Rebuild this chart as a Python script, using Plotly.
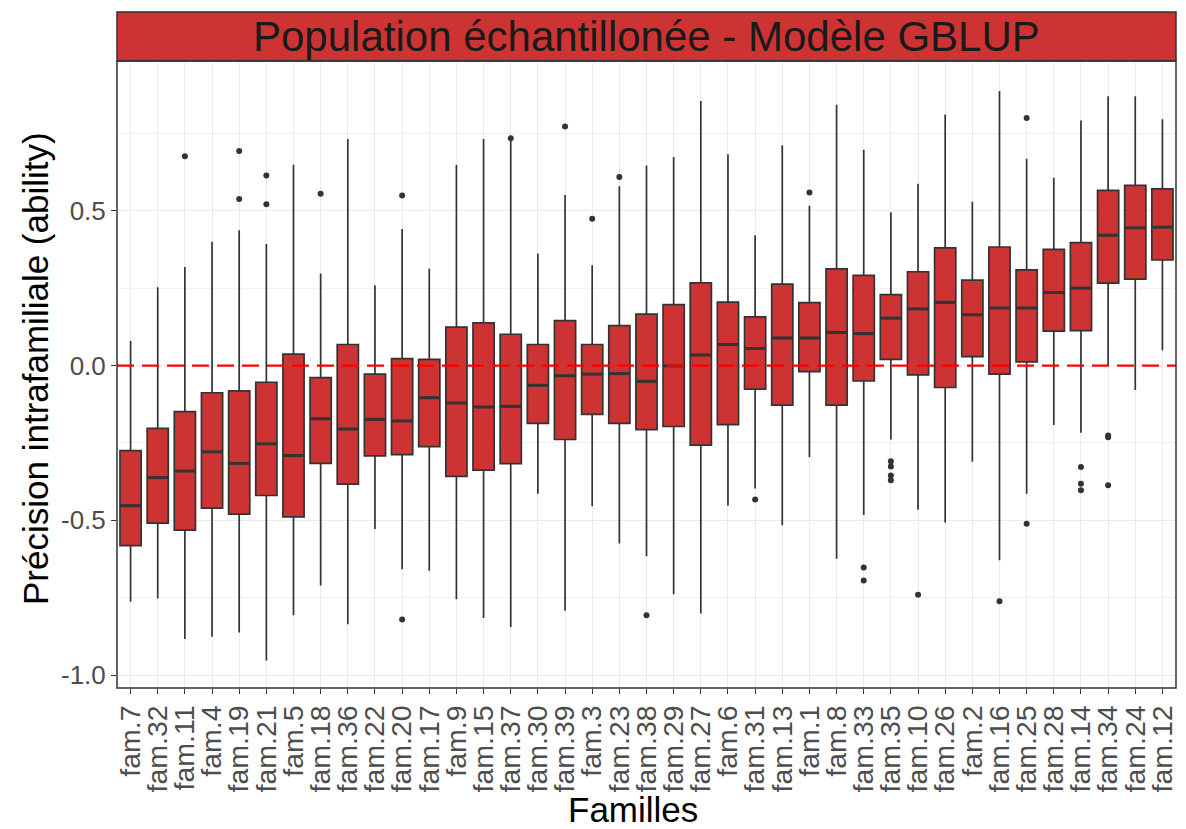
import plotly.graph_objects as go

families = ["fam.7", "fam.32", "fam.11", "fam.4", "fam.19", "fam.21", "fam.5", "fam.18", "fam.36", "fam.22",
            "fam.20", "fam.17", "fam.9", "fam.15", "fam.37", "fam.30", "fam.39", "fam.3", "fam.23", "fam.38",
            "fam.29", "fam.27", "fam.6", "fam.31", "fam.13", "fam.1", "fam.8", "fam.33", "fam.35", "fam.10",
            "fam.26", "fam.2", "fam.16", "fam.25", "fam.28", "fam.14", "fam.34", "fam.24", "fam.12"]

upper = [0.079, 0.253, 0.318, 0.400, 0.437, 0.393, 0.649, 0.297, 0.732, 0.259,
         0.441, 0.313, 0.649, 0.732, 0.732, 0.362, 0.551, 0.324, 0.579, 0.646,
         0.674, 0.855, 0.683, 0.421, 0.712, 0.516, 0.843, 0.697, 0.495, 0.587,
         0.811, 0.529, 0.887, 0.668, 0.607, 0.792, 0.870, 0.870, 0.796]
q3 = [-0.275, -0.203, -0.149, -0.088, -0.082, -0.054, 0.037, -0.039, 0.068, -0.028,
      0.022, 0.020, 0.124, 0.138, 0.101, 0.068, 0.145, 0.068, 0.129, 0.166,
      0.197, 0.267, 0.205, 0.157, 0.263, 0.203, 0.312, 0.291, 0.229, 0.303,
      0.380, 0.276, 0.383, 0.309, 0.375, 0.397, 0.566, 0.582, 0.571]
median = [-0.453, -0.362, -0.341, -0.279, -0.316, -0.253, -0.291, -0.172, -0.205, -0.174,
          -0.179, -0.104, -0.121, -0.134, -0.132, -0.064, -0.033, -0.028, -0.026, -0.051,
          -0.001, 0.034, 0.068, 0.055, 0.089, 0.089, 0.107, 0.103, 0.153, 0.183,
          0.204, 0.164, 0.186, 0.186, 0.236, 0.250, 0.421, 0.445, 0.447]
q1 = [-0.582, -0.509, -0.532, -0.461, -0.480, -0.420, -0.489, -0.316, -0.383, -0.292,
      -0.288, -0.262, -0.358, -0.338, -0.317, -0.187, -0.239, -0.158, -0.187, -0.207,
      -0.197, -0.257, -0.191, -0.076, -0.128, -0.020, -0.128, -0.050, 0.020, -0.030,
      -0.071, 0.029, -0.028, 0.012, 0.111, 0.113, 0.266, 0.279, 0.341]
lower = [-0.763, -0.753, -0.884, -0.876, -0.863, -0.953, -0.807, -0.711, -0.836, -0.528,
         -0.658, -0.663, -0.755, -0.816, -0.845, -0.414, -0.792, -0.455, -0.575, -0.616,
         -0.739, -0.801, -0.453, -0.397, -0.516, -0.296, -0.624, -0.483, -0.239, -0.466,
         -0.507, -0.311, -0.629, -0.414, -0.192, -0.217, 0.000, -0.079, 0.049]

outlier_fam = ["fam.11", "fam.19", "fam.19", "fam.21", "fam.21", "fam.18",
               "fam.20", "fam.20", "fam.37", "fam.39", "fam.3", "fam.23", "fam.38",
               "fam.31", "fam.1", "fam.33", "fam.33",
               "fam.35", "fam.35", "fam.35", "fam.35", "fam.10",
               "fam.16", "fam.25", "fam.25", "fam.14", "fam.14", "fam.14",
               "fam.34", "fam.34", "fam.34"]
outlier_val = [0.676, 0.693, 0.538, 0.614, 0.521, 0.555,
               0.549, -0.821, 0.734, 0.772, 0.474, 0.609, -0.807,
               -0.433, 0.559, -0.653, -0.695,
               -0.309, -0.326, -0.355, -0.371, -0.741,
               -0.762, 0.800, -0.511, -0.328, -0.382, -0.403,
               -0.226, -0.232, -0.387]

ytick_vals = [-1.0, -0.5, 0.0, 0.5]
ytick_text = ["-1.0", "-0.5", "0.0", "0.5"]
yminor_vals = [-0.75, -0.25, 0.25, 0.75]

title_text = "Population échantillonée - Modèle GBLUP"
x_title = "Familles"
y_title = "Précision intrafamiliale (ability)"

FILL = "#CD3333"
EDGE = "#333333"
FONT = "Liberation Sans, Arial, sans-serif"

# page body adds an 8px offset; compensate so the plot lands where the reference has it
OFF = 8
W, H = 1186 - OFF, 829 - OFF
PL, PR, PT, PB = 117, 1176, 61, 688          # plot area edges in screen pixels
ML, MR, MT, MB = PL - OFF, OFF + W - PR, PT - OFF, OFF + H - PB
plot_h = PB - PT
plot_w = PR - PL

fig = go.Figure()
fig.add_trace(go.Box(
    x=families, q1=q1, median=median, q3=q3,
    lowerfence=lower, upperfence=upper,
    fillcolor=FILL, line=dict(color=EDGE, width=1.7),
    whiskerwidth=0, width=0.78, boxpoints=False, showlegend=False,
    hoverinfo="skip"
))
fig.add_trace(go.Scatter(
    x=outlier_fam, y=outlier_val, mode="markers",
    marker=dict(color=EDGE, size=6), showlegend=False, hoverinfo="skip"
))

# thicker median lines (ggplot style)
for i, m in enumerate(median):
    fig.add_shape(type="line", xref="x", yref="y", x0=i - 0.39, x1=i + 0.39, y0=m, y1=m,
                  line=dict(color=EDGE, width=3))

# red dashed reference line at 0
fig.add_shape(type="line", xref="paper", yref="y", x0=0, x1=1, y0=0, y1=0,
              line=dict(color="#FF0000", width=2.2, dash="17px,8px"))

# strip
strip_h = 49 / plot_h
fig.add_shape(type="rect", xref="paper", yref="paper", x0=0, x1=1, y0=1, y1=1 + strip_h,
              fillcolor=FILL, line=dict(color=EDGE, width=1.5), layer="above")
fig.add_annotation(text=title_text, xref="paper", yref="paper", x=0.5, y=1 + strip_h / 2,
                   showarrow=False, font=dict(family=FONT, size=42, color="#1A1A1A"),
                   xanchor="center", yanchor="middle")

# axis titles
fig.add_annotation(text=x_title, xref="paper", yref="paper", x=(633 - PL) / plot_w, y=(PB - 809) / plot_h,
                   showarrow=False, font=dict(family=FONT, size=35, color="black"),
                   xanchor="center", yanchor="middle")
fig.add_annotation(text=y_title, xref="paper", yref="paper", x=(35 - PL) / plot_w, y=(PB - 369) / plot_h,
                   showarrow=False, textangle=-90, font=dict(family=FONT, size=35, color="black"),
                   xanchor="center", yanchor="middle")

# panel border
fig.add_shape(type="rect", xref="paper", yref="paper", x0=0, x1=1, y0=0, y1=1,
              line=dict(color=EDGE, width=1.5), layer="above")

fig.update_layout(
    width=W, height=H,
    margin=dict(l=ML, r=MR, t=MT, b=MB, autoexpand=False),
    paper_bgcolor="white", plot_bgcolor="white",
    font=dict(family=FONT, color="#4D4D4D"),
    xaxis=dict(
        type="category", categoryorder="array", categoryarray=families,
        tickmode="linear", dtick=1,
        showgrid=True, gridcolor="#EBEBEB", gridwidth=1,
        tickangle=-90, tickfont=dict(size=28.5, color="#4D4D4D"),
        ticks="outside", ticklen=5, tickcolor=EDGE, tickwidth=1,
        showline=False, zeroline=False, automargin=False,
        range=[-0.5, len(families) - 0.5],
    ),
    yaxis=dict(
        range=[-1.042, 0.984],
        tickvals=ytick_vals, ticktext=ytick_text,
        tickfont=dict(size=26, color="#4D4D4D"),
        ticks="outside", ticklen=5, tickcolor=EDGE, tickwidth=1,
        showgrid=True, gridcolor="#EBEBEB", gridwidth=1.2,
        minor=dict(tickvals=yminor_vals, showgrid=True, gridcolor="#F2F2F2", gridwidth=0.6, ticks=""),
        zeroline=False, showline=False, automargin=False,
    ),
)

fig.write_html("out.html")
